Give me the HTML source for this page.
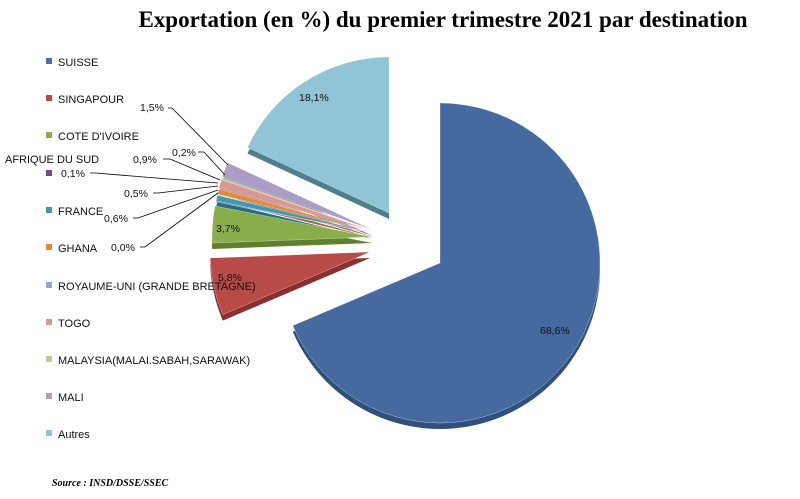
<!DOCTYPE html>
<html><head><meta charset="utf-8"><style>
body{margin:0;background:#fff;width:800px;height:499px;overflow:hidden}
svg{display:block}
</style></head><body>
<svg id="s" width="800" height="499" xmlns="http://www.w3.org/2000/svg" font-family="Liberation Sans, sans-serif">
<text x="443" y="27" text-anchor="middle" font-family="Liberation Serif, serif" font-weight="bold" font-size="23">Exportation (en %) du premier trimestre 2021 par destination</text>
<g id="pie"></g>
<g font-size="11" fill="#111">
<rect x="46" y="58" width="6" height="6" fill="#4a72a8"/><text x="58" y="66">SUISSE</text>
<rect x="46" y="95" width="6" height="6" fill="#b84a47"/><text x="58" y="103">SINGAPOUR</text>
<rect x="46" y="132" width="6" height="6" fill="#8aae4c"/><text x="58" y="140">COTE D'IVOIRE</text>
<text x="5" y="163">AFRIQUE DU SUD</text>
<rect x="46" y="170" width="6" height="6" fill="#6a4f8f"/>
<rect x="46" y="207" width="6" height="6" fill="#3e9ab2"/><text x="58" y="215">FRANCE</text>
<rect x="46" y="244" width="6" height="6" fill="#e38a38"/><text x="58" y="252">GHANA</text>
<rect x="46" y="282" width="6" height="6" fill="#92a8cf"/><text x="58" y="290">ROYAUME-UNI (GRANDE BRETAGNE)</text>
<rect x="46" y="319" width="6" height="6" fill="#d89896"/><text x="58" y="327">TOGO</text>
<rect x="46" y="356" width="6" height="6" fill="#b5cf94"/><text x="58" y="364">MALAYSIA(MALAI.SABAH,SARAWAK)</text>
<rect x="46" y="393" width="6" height="6" fill="#ab9dc4"/><text x="58" y="401">MALI</text>
<rect x="46" y="430" width="6" height="6" fill="#91c4d6"/><text x="58" y="438">Autres</text>
</g>
<g stroke="#000" stroke-width="0.8" fill="none">
<polyline points="168,108 172,108 228,165"/>
<polyline points="198,152 204,152 225,175"/>
<polyline points="163,159 170,159 220,180"/>
<polyline points="90,173 95,173 218,183"/>
<polyline points="153,193 158,193 218,186"/>
<polyline points="133,218 138,218 218,190"/>
<polyline points="140,247 145,247 218,193"/>
</g>
<g font-size="10.5" fill="#111">
<text x="140" y="111">1,5%</text>
<text x="172" y="156">0,2%</text>
<text x="133" y="163">0,9%</text>
<text x="61" y="177">0,1%</text>
<text x="124" y="197">0,5%</text>
<text x="104" y="222">0,6%</text>
<text x="111" y="251">0,0%</text>
<text x="299" y="101">18,1%</text>
<text x="216" y="232">3,7%</text>
<text x="218" y="281">5,8%</text>
<text x="540" y="334">68,6%</text>
</g>
<text x="52" y="486" font-family="Liberation Serif, serif" font-style="italic" font-weight="bold" font-size="10">Source : INSD/DSSE/SSEC</text>
</svg>
<script>
var sl=[
[68.6,"#46699f","#2f4f7e",440,263,160],
[5.8,"#b84a47","#8a2f2d",370,252,160],
[3.7,"#8aae4c","#61802f",372,237,160],
[0.1,"#6a4f8f","#4a3566",373,233,160],
[0.6,"#3e9ab2","#2a6d80",373,233,160],
[0.5,"#e38a38","#a86020",373,232,160],
[0.0,"#92a8cf","#6a7fa0",373,232,160],
[0.9,"#d89896","#a06a68",373,231,160],
[0.2,"#b5cf94","#809a66",373,231,160],
[1.5,"#ab9dc4","#7a6e94",373,230,160],
[18.1,"#91c4d6","#4f7f8c",389,213,156]];
var g=document.getElementById('pie'),a=0;
function P(cx,cy,r,t){t=t*Math.PI/180;return (cx+r*Math.sin(t)).toFixed(1)+','+(cy-r*Math.cos(t)).toFixed(1);}
var parts=[];
sl.forEach(function(s){var b=a+s[0]*3.6;
 function path(dy){var cy=s[4]+dy;return 'M'+s[3]+','+cy+' L'+P(s[3],cy,s[5],a)+' A'+s[5]+','+s[5]+' 0 '+((b-a)>180?1:0)+' 1 '+P(s[3],cy,s[5],b)+' Z';}
 if(s[0]>0){parts.push('<path d="'+path(6)+'" fill="'+s[2]+'"/>');parts.push('<path d="'+path(0)+'" fill="'+s[1]+'" stroke="#fff" stroke-width="0.3"/>');}
 a=b;});
var back='',front='';parts.forEach(function(p,i){if(i%2==0)back+=p;else front+=p;});
g.innerHTML=back+front;
</script>
</body></html>
